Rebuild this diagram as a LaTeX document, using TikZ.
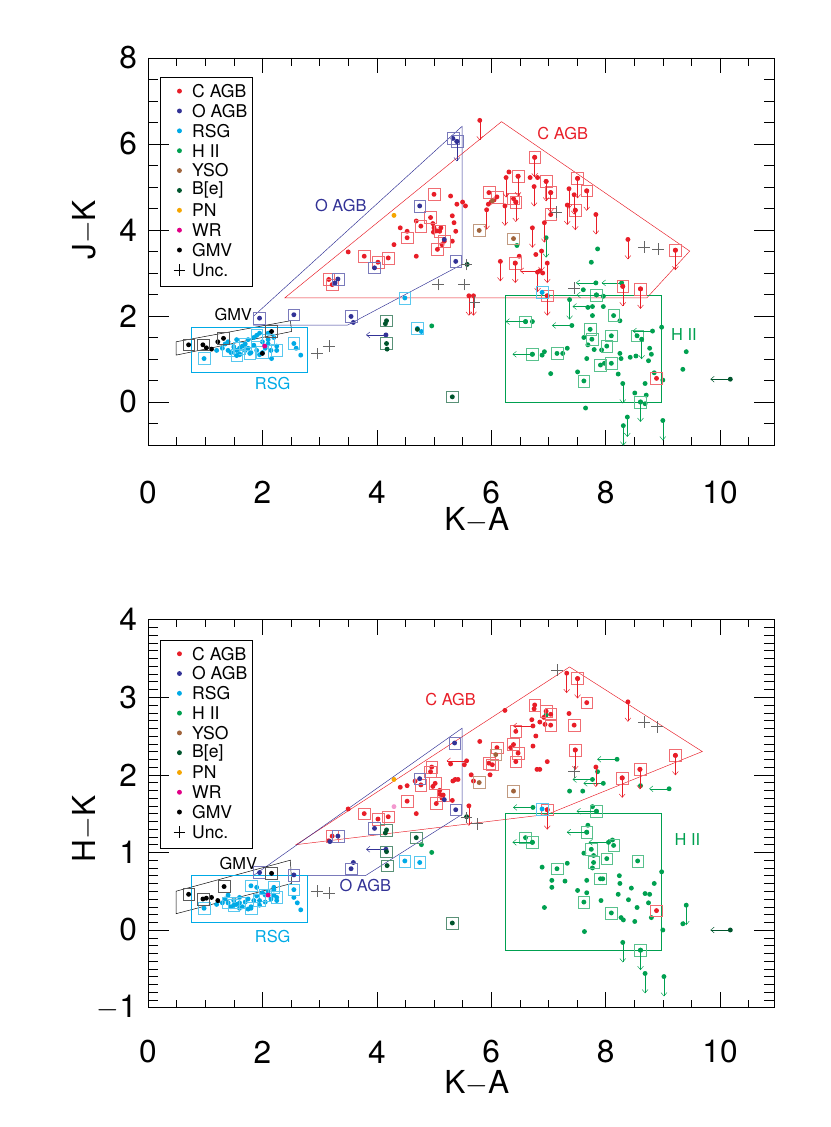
\documentclass[tikz,border=0pt]{standalone}
\usepackage{fontspec}
\setmainfont{TeX Gyre Heros}
\usetikzlibrary{arrows.meta}
\definecolor{cagb}{RGB}{232,30,40}
\definecolor{oagb}{RGB}{50,50,150}
\definecolor{rsg}{RGB}{0,170,230}
\definecolor{hii}{RGB}{0,160,80}
\definecolor{yso}{RGB}{160,100,60}
\definecolor{bee}{RGB}{0,85,45}
\definecolor{pne}{RGB}{245,165,0}
\definecolor{wrs}{RGB}{225,0,135}
\tikzset{
%Define standard arrow tip
>={Straight Barb[length=3pt,width=5pt]},
%styles for labels and ticks
tick label/.style={font=\fontsize{27}{27}\selectfont},
region label/.style={font=\fontsize{14}{14}\selectfont},
leg text/.style={font=\fontsize{15}{15}\selectfont, anchor=west},
}
% markers
\newcommand{\dotpts}[2]{\foreach \px/\py in {#2} \fill[#1] (\px,\py) circle (2.1pt);}
\newcommand{\boxpts}[2]{\foreach \px/\py in {#2} {\fill[#1] (\px,\py) circle (2.1pt);
  \draw[#1!65!white] (\px,\py) ++(-5pt,-5pt) rectangle ++(10pt,10pt);}}
\newcommand{\downpts}[2]{\foreach \px/\py in {#2} {\fill[#1] (\px,\py) circle (2.1pt);
  \draw[#1,->] (\px,\py) -- ++(0,-17pt);}}
\newcommand{\leftpts}[2]{\foreach \px/\py in {#2} {\fill[#1] (\px,\py) circle (2.1pt);
  \draw[#1,->] (\px,\py) -- ++(-17pt,0);}}
\newcommand{\uncpts}[1]{\foreach \px/\py in {#1} \draw[gray!80!black] (\px,\py) ++(-5pt,0) -- ++(10pt,0) ++(-5pt,-5pt) -- ++(0,10pt);}
% legend: top, bottom, first entry, step
\newcommand{\legendbox}[4]{%
  \draw (0.22,#1) rectangle (1.82,#2);
  \foreach \c/\t [count=\i from 0] in {cagb/C  AGB, oagb/O  AGB, rsg/RSG, hii/H  II, yso/YSO, bee/{B[e]}, pne/PN, wrs/WR, black/GMV} {
    \fill[\c] (0.55,{#3-\i*#4}) circle (2.1pt);
    \node[leg text] at (0.7,{#3-\i*#4}) {\t};
  }
  \draw (0.55,{#3-9*#4}) ++(-5pt,0) -- ++(10pt,0) ++(-5pt,-5pt) -- ++(0,10pt);
  \node[leg text] at (0.7,{#3-9*#4}) {Unc.};
}
\begin{document}
\begin{tikzpicture}
\useasboundingbox (0,0) rectangle (24.9,-33.81);

% ---------------- J-K panel
\begin{scope}[shift={(4.44,-12.06)}, x=1.716cm, y=1.29cm]
\draw (0,-1) rectangle (10.95,8);
\foreach \t in {0,0.5,...,10.5} {\draw (\t,-1) -- ++(0,0.18); \draw (\t,8) -- ++(0,-0.18);}
\foreach \t in {0,2,...,10} {\draw (\t,-1) -- ++(0,0.36); \draw (\t,8) -- ++(0,-0.36);
  \node[tick label] at (\t,-2.1) {\t};}
\foreach \t in {-0.5,0,...,7.5} {\draw (0,\t) -- ++(0.18,0); \draw (10.95,\t) -- ++(-0.18,0);}
\foreach \t in {0,2,...,8} {\draw (0,\t) -- ++(0.36,0); \draw (10.95,\t) -- ++(-0.36,0);
  \node[tick label, anchor=east] at (-0.12,\t) {\t};}
\node[tick label] at (5.75,-2.75) {K$-$A};
\node[tick label, rotate=90] at (-1.1,4) {J$-$K};

% regions
\draw[cagb] (2.39,2.42) -- (6.18,6.52) -- (9.47,3.51) -- (8.72,2.42) -- cycle;
\draw[oagb] (1.84,1.99) -- (5.49,6.41) -- (5.49,3.2) -- (3.49,1.79) -- (1.84,1.79) -- cycle;
\draw (0.49,1.40) -- (2.49,1.89) -- (2.51,1.64) -- (0.49,1.09) -- cycle;
\draw[rsg] (0.75,0.69) rectangle (2.79,1.75);
\draw[hii] (6.24,0) rectangle (8.98,2.49);
\node[region label, cagb] at (7.25,6.24) {C  AGB};
\node[region label, oagb] at (3.37,4.58) {O  AGB};
\node[region label] at (1.49,2.03) {GMV};
\node[region label, rsg] at (2.18,0.43) {RSG};
\node[region label, hii] at (9.37,1.58) {H  II};

% H II
\dotpts{hii}{6.45/3.64,7.86/3.56,7.75/3.25,7.61/2.61,7.96/2.46,7.69/2.2,7.96/2.22,7.77/2.01,8.25/1.89,6.72/1.87,8.98/1.74,7.62/1.5,7.69/1.33,7.93/1.21,7.8/1.22,7.33/1.25,7.25/1.13,6.93/1.17,6.89/1.09,8.25/1.13,7.67/1.01,8.77/1.25,8.8/1.11,8.53/1.07,8.43/1.04,8.27/1.01,9.41/1.17,8.75/0.96,7.98/0.9,7.51/0.7,7.04/0.66,8.22/0.65,9.35/0.76,8.85/0.68,9.0/0.51,8.69/0.43,8.51/0.21,8.71/0.16,8.69/-0.04,7.65/-0.14,4.96/1.77}
\boxpts{hii}{7.84/2.49,8.14/2.01,6.6/1.87,7.73/1.69,7.76/1.46,8.1/1.54,8.55/1.54,8.02/1.3,7.15/1.13,6.72/1.11,7.91/0.86,8.1/0.9,7.62/0.49,8.61/0}
\downpts{hii}{6.96/3.82,7.37/2.38,8.63/1.46,8.3/0.43,8.61/0,8.38/-0.35,8.31/-0.55,9.0/-0.43}
\leftpts{hii}{7.83/2.77,8.28/2.77,7.84/2.49,7.77/2.22,6.6/1.87,7.41/1.78,8.82/1.65,6.72/1.11}
% C AGB
\dotpts{cagb}{6.31/5.35,6.68/5.22,6.81/5.22,5.29/4.79,5.5/4.65,5.55/4.56,5.4/4.6,6.0/4.65,6.05/4.7,5.95/4.6,4.69/4.21,4.98/4.15,5.0/4.05,5.05/3.98,5.12/4.05,4.99/3.95,5.35/4.17,5.32/4.33,5.38/3.97,5.14/3.66,5.32/3.74,4.53/3.97,4.41/4.05,4.3/3.66,3.5/3.49,4.69/3.39,6.49/3.39,6.78/3.43,6.9/3.0}
\boxpts{cagb}{6.76/5.69,6.47/5.25,6.96/5.13,7.51/5.2,7.67/4.91,7.04/4.87,5.0/4.83,5.96/4.87,6.1/4.77,6.39/4.73,6.43/4.65,7.47/4.46,7.04/4.36,4.94/4.29,4.77/4.09,5.1/3.97,5.18/3.74,5.06/3.55,4.53/3.82,4.2/3.35,4.02/3.25,3.78/3.39,6.42/3.23,9.22/3.53,8.3/2.69,8.61/2.63,6.98/2.47,3.16/2.85,3.22/2.73,8.89/0.55}
\downpts{cagb}{5.80/6.55,6.76/5.69,6.47/5.25,6.26/5.22,6.96/5.13,7.51/5.2,7.36/4.96,7.45/4.82,7.67/4.91,7.04/4.87,6.75/5.01,6.24/4.56,5.92/4.47,6.43/4.65,7.47/4.46,7.33/4.58,7.83/4.36,6.93/4.17,6.72/4.05,6.16/3.27,6.42/3.23,6.88/3.51,6.98/3.23,6.81/3.02,8.39/3.78,9.22/3.53,8.3/2.69,8.61/2.63,5.61/2.47,5.69/2.47,6.98/2.47}
\leftpts{cagb}{6.85/3.05}
% O AGB
\dotpts{oagb}{5.18/3.78,3.59/1.85,3.27/2.77}
\boxpts{oagb}{5.33/6.13,5.4/6.06,4.75/4.56,5.38/3.27,3.96/3.12,3.32/2.86,1.95/1.95,2.55/2.03,3.55/1.99}
\downpts{oagb}{5.4/6.06}
\leftpts{oagb}{4.16/1.56}
% RSG
\dotpts{rsg}{2.59/1.25,2.67/1.09,2.16/1.01,1.3/1.25,1.35/1.35,1.45/1.15,1.5/1.28,1.55/1.2,1.6/1.12,1.65/1.3,1.7/1.2,1.75/1.25,1.8/1.15,1.85/1.32,1.9/1.2,1.95/1.1,2.0/1.4,2.05/1.25,2.1/1.35,2.15/1.2,2.2/1.5,2.25/1.3,1.4/1.4,1.55/1.45,1.85/1.5,1.95/1.6,2.1/1.6,1.2/1.2,1.6/1.1,1.75/1.45,4.78/1.64}
\boxpts{rsg}{4.49/2.42,4.71/1.71,6.89/2.55,0.98/1.01,2.55/1.36,1.4/1.2,1.6/1.25,1.78/1.13,1.9/1.55,2.1/1.45,2.25/1.2,2.0/1.15,1.55/1.08,1.7/1.35}
% GMV, WR, PN
\dotpts{black}{1.02/1.26,1.11/1.23,1.22/1.4,2.0/1.13}
\boxpts{black}{0.71/1.33,0.96/1.33,1.32/1.48,2.16/1.64}
\dotpts{wrs}{2.04/1.3}
\dotpts{pne}{4.3/4.34}
% YSO, B[e]
\boxpts{yso}{5.79/3.99,6.39/3.8}
\dotpts{yso}{6.02/4.68}
\boxpts{bee}{4.17/1.89,4.17/1.36,5.32/0.12}
\dotpts{bee}{4.15/1.82,4.18/1.23,5.58/3.2,4.71/1.69}
\leftpts{bee}{10.18/0.53}
% uncertain
\uncpts{5.07/2.73,5.53/2.73,5.57/3.2,5.71/2.32,2.96/1.13,3.16/1.3,7.14/4.42,8.67/3.61,8.92/3.55,7.45/2.65}
\legendbox{7.56}{2.7}{7.23}{0.462}
\end{scope}

% ---------------- H-K panel
\begin{scope}[shift={(4.44,-27.9)}, x=1.716cm, y=2.328cm]
\draw (0,-1) rectangle (10.95,4);
\foreach \t in {0,0.5,...,10.5} {\draw (\t,-1) -- ++(0,0.1); \draw (\t,4) -- ++(0,-0.1);}
\foreach \t in {0,2,...,10} {\draw (\t,-1) -- ++(0,0.2); \draw (\t,4) -- ++(0,-0.2);
  \node[tick label] at (\t,-1.57) {\t};}
\foreach \t in {-0.9,-0.8,...,3.95} {\draw (0,\t) -- ++(0.18,0); \draw (10.95,\t) -- ++(-0.18,0);}
\foreach \t in {-1,0,...,4} {\draw (0,\t) -- ++(0.36,0); \draw (10.95,\t) -- ++(-0.36,0);
  \node[tick label, anchor=east] at (-0.12,\t) {\ifnum\t<0 $-$1\else\t\fi};}
\node[tick label] at (5.75,-1.98) {K$-$A};
\node[tick label, rotate=90] at (-1.1,1.3) {H$-$K};

% regions
\draw[cagb] (2.59,1.10) -- (7.37,3.39) -- (9.69,2.30) -- (6.98,1.49) -- cycle;
\draw[oagb] (1.84,0.70) -- (5.49,2.6) -- (5.49,1.49) -- (3.8,0.70) -- cycle;
\draw (0.49,0.5) -- (2.49,0.9) -- (2.51,0.6) -- (0.49,0.21) -- cycle;
\draw[rsg] (0.75,0.10) rectangle (2.79,0.70);
\draw[hii] (6.24,-0.26) rectangle (8.98,1.5);
\node[region label, cagb] at (5.29,2.97) {C  AGB};
\node[region label, oagb] at (3.8,0.57) {O  AGB};
\node[region label] at (1.58,0.86) {GMV};
\node[region label, rsg] at (2.18,-0.09) {RSG};
\node[region label, hii] at (9.43,1.17) {H  II};

% H II
\dotpts{hii}{7.86/2.04,7.37/1.79,7.6/1.79,8.61/1.86,7.77/1.59,7.69/1.35,8.12/1.16,7.62/0.99,7.79/0.96,7.33/0.86,6.89/0.81,7.77/0.8,8.98/0.75,8.24/0.70,7.95/0.66,7.06/0.64,7.29/0.63,7.67/0.64,8.25/0.6,8.85/0.6,7.06/0.55,8.45/0.54,7.51/0.51,7.67/0.48,8.22/0.46,8.69/0.47,8.77/0.46,8.4/0.39,7.92/0.38,8.75/0.35,8.55/0.29,6.93/0.29,8.27/0.16,8.31/0.13,8.51/0.11,8.8/0.16,9.35/0.08,9.0/0.0,7.63/-0.02,6.96/2.77,4.96/1.0,4.78/1.1}
\boxpts{hii}{7.84/1.53,6.6/1.19,6.72/1.13,7.67/1.26,8.14/1.09,7.75/1.04,7.79/0.87,8.02/0.92,8.56/0.89,7.15/0.79,7.91/0.66,7.62/0.36,8.1/0.22,8.61/-0.26}
\downpts{hii}{9.41/0.32,8.3/-0.16,8.61/-0.26,8.69/-0.56,9.02/-0.6}
\leftpts{hii}{8.2/2.2,7.77/1.94,7.96/1.89,9.11/1.82,7.84/1.53,6.73/1.58,6.72/1.13,7.67/1.26,8.05/1.13}
% C AGB
\dotpts{cagb}{6.24/2.83,6.75/2.85,6.92/2.74,6.71/2.71,6.85/2.68,6.94/2.65,7.36/2.79,6.78/2.50,5.8/2.43,6.34/2.35,6.73/2.37,6.98/2.17,6.8/2.07,6.85/2.07,5.53/2.13,5.65/2.0,5.69/1.92,5.98/2.0,5.29/2.14,4.67/1.92,4.53/1.86,4.41/1.84,4.98/1.85,5.1/1.8,5.1/1.75,5.33/1.92,5.37/1.94,5.42/1.94,5.14/1.7,5.32/1.67,4.69/1.5,3.5/1.56,3.16/1.15}
\boxpts{cagb}{7.51/3.24,7.67/2.93,6.76/2.9,6.96/2.82,7.04/2.78,7.04/2.64,7.45/2.64,6.43/2.56,6.1/2.35,6.39/2.39,6.47/2.28,5.96/2.15,6.02/2.13,6.43/2.17,7.47/2.32,9.22/2.25,8.6/2.07,8.29/1.96,4.96/2.1,4.94/2.04,4.77/1.87,5.02/1.89,5.16/1.74,5.04/1.63,4.53/1.66,4.2/1.46,4.02/1.43,3.78/1.5,6.98/1.55,3.22/1.21,8.89/0.25}
\downpts{cagb}{7.32/3.31,7.51/3.24,8.39/2.94,7.47/2.32,9.22/2.25,7.83/2.1,8.6/2.07,8.29/1.96,5.61/1.60,6.98/1.55}
\leftpts{cagb}{6.73/2.63,5.57/2.18}
\dotpts{wrs!40!white}{4.3/1.59}
% O AGB
\dotpts{oagb}{5.18/1.68,3.18/1.14,3.59/0.87}
\boxpts{oagb}{5.36/2.41,5.38/1.55,4.75/1.95,3.96/1.31,3.32/1.21,1.95/0.74,2.55/0.71,3.55/0.79}
\leftpts{oagb}{4.16/1.04}
% RSG
\dotpts{rsg}{2.55/0.42,2.61/0.35,2.67/0.26,1.3/0.35,1.35/0.4,1.45/0.3,1.5/0.38,1.55/0.33,1.6/0.42,1.65/0.3,1.7/0.36,1.75/0.4,1.8/0.3,1.85/0.38,1.9/0.44,1.95/0.32,2.0/0.48,2.05/0.36,2.1/0.5,2.15/0.4,2.2/0.45,2.25/0.38,1.4/0.45,1.2/0.33,1.6/0.28,1.75/0.27,2.2/0.52,1.9/0.55}
\boxpts{rsg}{1.8/0.57,4.49/0.89,4.75/0.87,6.89/1.56,2.55/0.52,0.98/0.28,1.4/0.35,1.6/0.35,1.8/0.28,2.05/0.45,2.25/0.42,1.5/0.32,1.95/0.38,2.2/0.55}
% GMV, WR, PN
\dotpts{black}{1.02/0.41,1.11/0.42,1.22/0.38}
\boxpts{black}{0.71/0.46,0.96/0.40,1.33/0.56,2.16/0.73}
\dotpts{wrs}{2.1/0.45}
\dotpts{pne}{4.3/1.94}
% YSO, B[e]
\boxpts{yso}{5.79/1.9,6.39/1.79,6.08/2.26}
\boxpts{bee}{4.17/1.29,4.17/1.01,4.18/0.83,4.69/1.19,5.32/0.09}
\dotpts{bee}{4.15/1.25,5.57/1.46}
\leftpts{bee}{10.18/0.0}
% uncertain
\uncpts{7.15/3.35,8.67/2.68,8.9/2.62,7.45/2.04,5.57/1.45,5.75/1.37,2.96/0.5,3.16/0.48}
\legendbox{3.74}{1.06}{3.56}{0.255}
\end{scope}
\end{tikzpicture}
\end{document}
